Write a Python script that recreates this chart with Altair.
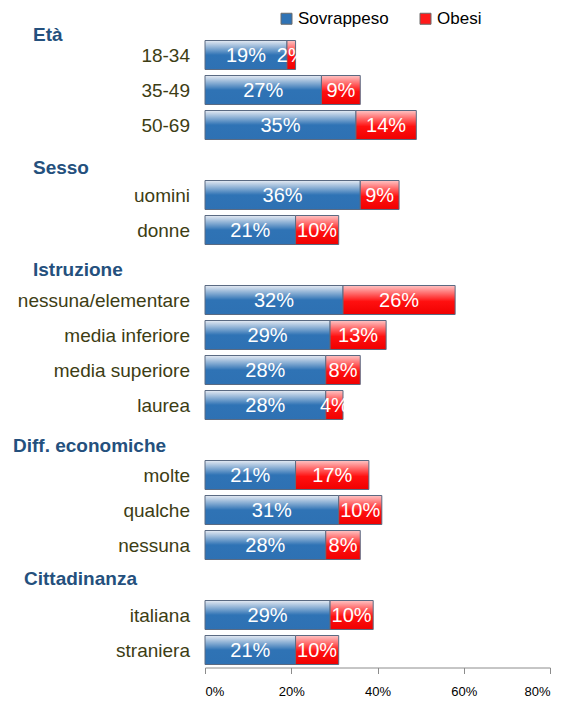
import altair as alt
import pandas as pd

# ---- data ----
groups = ["Età", "Sesso", "Istruzione", "Diff. economiche", "Cittadinanza"]
categories = [
    ["18-34", "35-49", "50-69"],
    ["uomini", "donne"],
    ["nessuna/elementare", "media inferiore", "media superiore", "laurea"],
    ["molte", "qualche", "nessuna"],
    ["italiana", "straniera"],
]
sovrappeso = [
    [19, 27, 35],
    [36, 21],
    [32, 29, 28, 28],
    [21, 31, 28],
    [29, 21],
]
obesi = [
    [2, 9, 14],
    [9, 10],
    [26, 13, 8, 4],
    [17, 10, 8],
    [10, 10],
]
series = ["Sovrappeso", "Obesi"]
tick_values = [0, 0.2, 0.4, 0.6, 0.8]

# ---- build table ----
rows = []
i = 0
for g, cats, sv, ob in zip(groups, categories, sovrappeso, obesi):
    rows.append(dict(key=f"r{i:02d}", label=g, kind="header", sovr=None, obe=None))
    i += 1
    for c, s, o in zip(cats, sv, ob):
        rows.append(dict(key=f"r{i:02d}", label=c, kind="row", sovr=s / 100, obe=o / 100))
        i += 1
df = pd.DataFrame(rows)
keys = list(df["key"])

long_rows = []
for r in rows:
    if r["kind"] == "row":
        long_rows.append(dict(key=r["key"], series="Sovrappeso", value=r["sovr"]))
        long_rows.append(dict(key=r["key"], series="Obesi", value=r["obe"]))
df_long = pd.DataFrame(long_rows)

SANS = "Liberation Sans, Arial, sans-serif"

yenc = alt.Y(
    "key:N",
    sort=keys,
    scale=alt.Scale(domain=keys, range=[-5.5, 659.5], paddingInner=6 / 35, paddingOuter=3 / 35),
    axis=None,
)
xscale = alt.Scale(domain=[0, 0.8], nice=False)

blue_grad = alt.Gradient(
    gradient="linear",
    stops=[
        alt.GradientStop(color="#e6ebf3", offset=0),
        alt.GradientStop(color="#2f73b5", offset=0.5),
        alt.GradientStop(color="#2e71b3", offset=1),
    ],
    x1=0, x2=0, y1=0, y2=1,
)
red_grad = alt.Gradient(
    gradient="linear",
    stops=[
        alt.GradientStop(color="#ffc4c4", offset=0),
        alt.GradientStop(color="#ff1010", offset=0.55),
        alt.GradientStop(color="#f00000", offset=1),
    ],
    x1=0, x2=0, y1=0, y2=1,
)

base = alt.Chart(df)
bars_df = base.transform_filter("datum.kind == 'row'").transform_calculate(
    total="datum.sovr + datum.obe",
    mid1="datum.sovr / 2",
    mid2="datum.sovr + datum.obe / 2",
    lab1="format(datum.sovr, '.0%')",
    lab2="format(datum.obe, '.0%')",
)

bar_s = bars_df.mark_bar(color=blue_grad, stroke="#5a6a82", strokeWidth=1).encode(
    x=alt.X("sovr:Q", scale=xscale,
            axis=alt.Axis(values=tick_values, format="%", grid=False, title=None,
                          domainColor="#8c8c8c", tickColor="#8c8c8c", tickSize=6,
                          labelFont=SANS, labelFontSize=13, labelColor="#000000",
                          labelPadding=12)),
    y=yenc,
)
bar_o = bars_df.mark_bar(color=red_grad, stroke="#5a6a82", strokeWidth=1).encode(
    x=alt.X("sovr:Q", scale=xscale),
    x2="total:Q",
    y=yenc,
)
txt_s = bars_df.mark_text(color="white", font=SANS, fontSize=20, baseline="middle", dy=1).encode(
    x=alt.X("mid1:Q", scale=xscale), y=yenc, text="lab1:N"
)
txt_o = bars_df.mark_text(color="white", font=SANS, fontSize=20, baseline="middle", dy=1).encode(
    x=alt.X("mid2:Q", scale=xscale), y=yenc, text="lab2:N"
)

row_labels = base.transform_filter("datum.kind == 'row'").mark_text(
    align="right", baseline="middle", font=SANS, fontSize=19, color="#3d3d14", dy=1
).encode(x=alt.value(-15), y=yenc, text="label:N")

# header placement (left edge offset from plot, vertical nudge)
header_pos = {
    "Età": (-172, 15),
    "Sesso": (-172, 8),
    "Istruzione": (-172, 5),
    "Diff. economiche": (-192, 6),
    "Cittadinanza": (-181, -1),
}
header_layers = []
for g in groups:
    hx, hdy = header_pos[g]
    header_layers.append(
        base.transform_filter(alt.datum.label == g).transform_filter("datum.kind == 'header'")
        .mark_text(align="left", baseline="middle", font=SANS, fontSize=19,
                   fontWeight="bold", color="#24507d", dy=hdy)
        .encode(x=alt.value(hx), y=yenc, text="label:N")
    )

legend_layer = alt.Chart(df_long).mark_square(opacity=0).encode(
    x=alt.X("value:Q", scale=xscale),
    y=yenc,
    color=alt.Color(
        "series:N",
        scale=alt.Scale(domain=series, range=["#2f73b5", "#ff1a1a"]),
        legend=alt.Legend(
            orient="none", legendX=73, legendY=2, direction="horizontal", title=None,
            symbolType="square", symbolSize=121, symbolOpacity=1,
            symbolStrokeColor="#6b6b6b", symbolStrokeWidth=1,
            labelFont=SANS, labelFontSize=17, labelColor="#000000",
            labelOffset=3, columnPadding=28, padding=0,
        ),
    ),
)

chart = alt.layer(
    bar_s, bar_o, txt_s, txt_o, row_labels, *header_layers, legend_layer
).properties(
    width=345, height=659.5,
    autosize=alt.AutoSizeParams(type="none"),
    padding={"left": 197, "top": 0, "right": 20, "bottom": 30},
).configure_view(stroke=None)

chart.save("out.html", embed_options={"renderer": "svg", "actions": False})
